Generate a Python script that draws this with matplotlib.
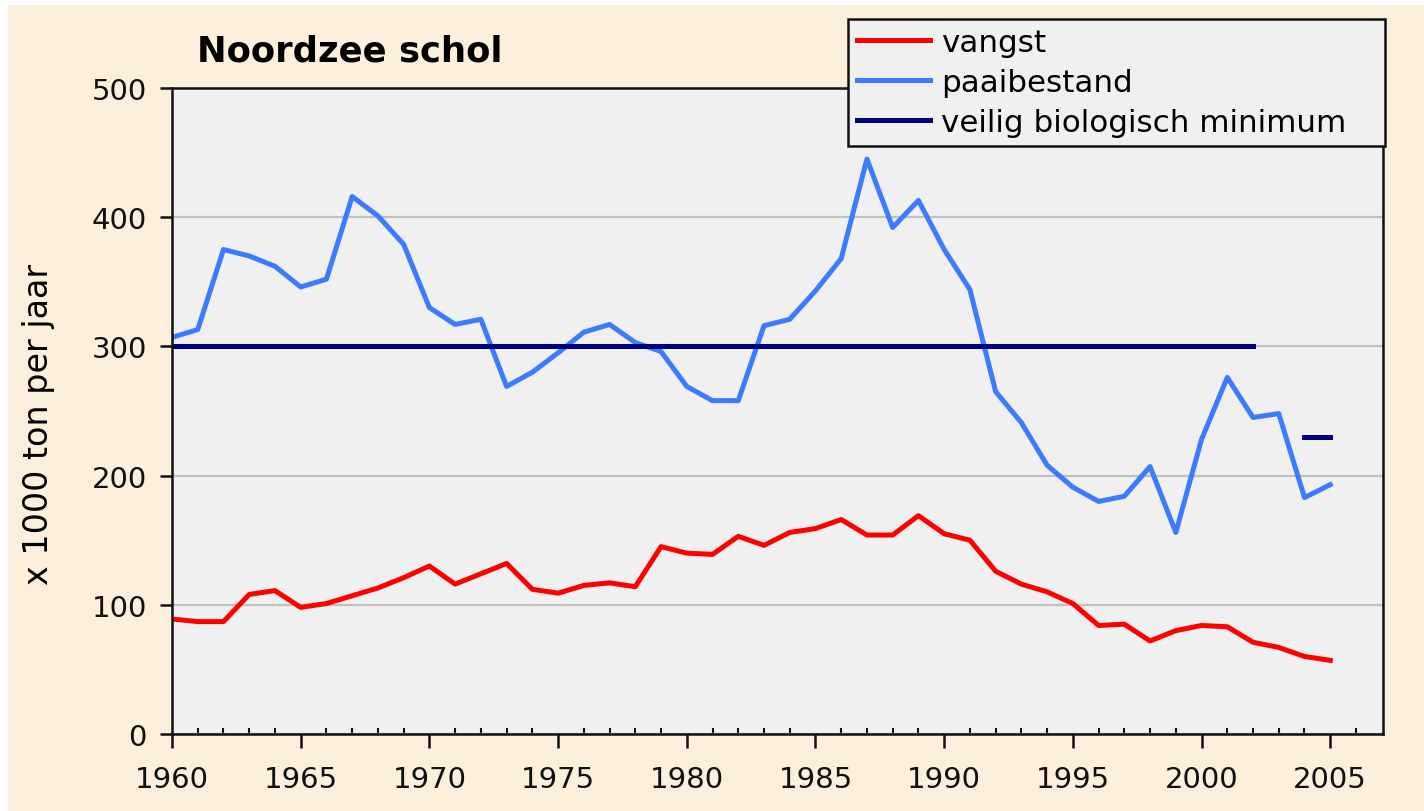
import numpy as np
import matplotlib.pyplot as plt
from matplotlib.patches import Rectangle

# yearly values (x 1000 ton)
years = list(range(1960, 2006))

vangst = [89, 87, 87, 108, 111, 98, 101, 107, 113, 121,
          130, 116, 124, 132, 112, 109, 115, 117, 114, 145,
          140, 139, 153, 146, 156, 159, 166, 154, 154, 169,
          155, 150, 126, 116, 110, 101, 84, 85, 72, 80,
          84, 83, 71, 67, 60, 57]

paaibestand = [307, 313, 375, 370, 362, 346, 352, 416, 401, 379,
               330, 317, 321, 269, 280, 295, 311, 317, 303, 296,
               269, 258, 258, 316, 321, 343, 368, 445, 392, 413,
               375, 344, 265, 241, 208, 191, 180, 184, 207, 156,
               228, 276, 245, 248, 183, 193]

# safe biological minimum: 300 up to 2002, 230 from 2004
minimum_years_1 = [1960, 2002]
minimum_vals_1 = [300, 300]
minimum_years_2 = [2004, 2005]
minimum_vals_2 = [230, 230]

beige = '#FCEFDC'
plot_bg = '#F0F0F0'

fig = plt.figure(figsize=(14.24, 8.12), dpi=100)
fig.patch.set_facecolor('white')
fig.patches.append(Rectangle((8 / 1424, 0), 1, 1 - 6 / 812, transform=fig.transFigure,
                             facecolor=beige, edgecolor='none', zorder=-10))

ax = fig.add_axes([172 / 1424, 1 - 735 / 812, (1383 - 172) / 1424, (735 - 89) / 812])
ax.set_zorder(1)
ax.set_facecolor(plot_bg)

ax.plot(years, vangst, color='#FF0000', lw=3.6, label='vangst', solid_joinstyle='round')
ax.plot(years, paaibestand, color='#3A7BFF', lw=3.6, label='paaibestand', solid_joinstyle='round')
ax.plot(minimum_years_1, minimum_vals_1, color='#000080', lw=3.6, label='veilig biologisch minimum')
ax.plot(minimum_years_2, minimum_vals_2, color='#000080', lw=3.6)

ax.set_xlim(1960, 2007.05)
ax.set_ylim(0, 500)
ax.set_xticks(range(1960, 2006, 5))
ax.set_xticks(range(1960, 2007), minor=True)
ax.set_yticks(range(0, 501, 100))
ax.yaxis.grid(True, color='#C0C0C0', lw=1.6)
ax.set_axisbelow(True)
for s in ax.spines.values():
    s.set_color('#111111')
    s.set_linewidth(1.8)
ax.tick_params(axis='x', which='major', labelsize=21, direction='out', length=10, width=1.8,
               colors='#111111', pad=12)
ax.tick_params(axis='x', which='minor', direction='in', length=4, width=1.5, colors='#111111')
ax.tick_params(axis='y', labelsize=21, direction='out', length=9, width=1.8,
               colors='#111111', pad=9)
ax.set_ylabel('x 1000 ton per jaar', fontsize=24)
ax.yaxis.set_label_coords((55 - 172) / 1211, (735 - 424) / 646)

fig.text(197 / 1424, 1 - 52 / 812, 'Noordzee schol', fontsize=25.5, fontweight='bold',
         va='center', ha='left')

# legend box spans x 848..1385, y 20..145 in the picture
leg = fig.legend(loc='upper left',
                 bbox_to_anchor=(848 / 1424, 1 - 145 / 812, 537 / 1424, 125 / 812),
                 mode='expand', fontsize=22.3, frameon=True, fancybox=False,
                 handlelength=2.35, handletextpad=0.35, labelspacing=0.35,
                 borderpad=0.3, borderaxespad=0)
leg.set_zorder(5)
leg.get_frame().set_facecolor(plot_bg)
leg.get_frame().set_edgecolor('#111111')
leg.get_frame().set_linewidth(1.8)
leg.get_frame().set_alpha(1)

fig.savefig('out.png', dpi=100, facecolor=fig.get_facecolor())
